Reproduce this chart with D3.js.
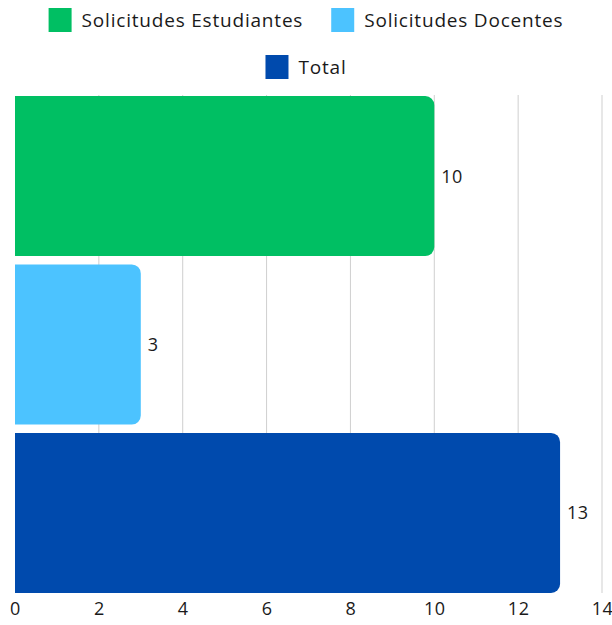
<!DOCTYPE html>
<html>
<head>
<meta charset="utf-8">
<script src="https://cdn.jsdelivr.net/npm/d3@7"></script>
<style>
  body { margin: 0; background: #fff; }
  text { font-family: "Open Sans", sans-serif; fill: #1a1a1a; }
</style>
</head>
<body>
<div id="canvas"></div>
<script>
const categories = ["Solicitudes Estudiantes", "Solicitudes Docentes", "Total"];
const values = [10, 3, 13];
const colors = ["#00bf63", "#4cc3ff", "#004aad"];
const xTicks = [0, 2, 4, 6, 8, 10, 12, 14];

const width = 612;
const height = 625;
const margin = { top: 95, left: 15, bottom: 32, right: 10 };
const iwidth = width - margin.left - margin.right;
const iheight = height - margin.top - margin.bottom;

const svg = d3.select("#canvas").append("svg")
  .attr("width", width)
  .attr("height", height);

const x = d3.scaleLinear().domain([0, 14]).range([0, 587]);
const y = d3.scaleBand().domain(categories).range([1, iheight]).paddingInner(0.05).paddingOuter(0);

const g = svg.append("g").attr("transform", `translate(${margin.left},${margin.top})`);

// grid
g.selectAll("line.grid").data(xTicks.filter(d => d > 0)).enter().append("line")
  .attr("x1", d => x(d)).attr("x2", d => x(d))
  .attr("y1", 0).attr("y2", iheight)
  .attr("stroke", "#cfcfcf").attr("stroke-width", 1);

// bars, rounded on right side only
const r = 9;
const barPath = d => {
  const x1 = x(d.v), y0 = y(d.c), h = y.bandwidth();
  return `M0,${y0}H${x1 - r}A${r},${r} 0 0 1 ${x1},${y0 + r}V${y0 + h - r}A${r},${r} 0 0 1 ${x1 - r},${y0 + h}H0Z`;
};
const data = categories.map((c, i) => ({ c, v: values[i], col: colors[i] }));

g.selectAll("path.bar").data(data).enter().append("path")
  .attr("d", barPath)
  .attr("fill", d => d.col);

g.selectAll("text.val").data(data).enter().append("text")
  .attr("x", d => x(d.v) + 7)
  .attr("y", d => y(d.c) + y.bandwidth() / 2)
  .attr("dy", "0.36em")
  .attr("font-size", 18)
  .attr("letter-spacing", 0.5)
  .text(d => d.v);

// x axis
const axis = g.append("g")
  .attr("transform", `translate(0,${iheight})`)
  .call(d3.axisBottom(x).tickValues(xTicks).tickSize(0).tickPadding(9));
axis.select(".domain").remove();
axis.selectAll("text").attr("font-size", 18).attr("letter-spacing", 0.5)
  .attr("font-family", "Open Sans, sans-serif").attr("fill", "#1a1a1a");

// legend
const legendRows = [[0, 1], [2]];
const leg = svg.append("g");
legendRows.forEach((row, ri) => {
  const rowG = leg.append("g");
  let cx = 0;
  row.forEach(i => {
    const item = rowG.append("g").attr("transform", `translate(${cx},0)`);
    item.append("rect").attr("x", 0).attr("y", -12).attr("width", 23).attr("height", 24).attr("fill", colors[i]);
    const t = item.append("text").attr("x", 33).attr("y", 0).attr("dy", "0.36em")
      .attr("font-size", 19).attr("letter-spacing", 0.8).text(categories[i]);
    cx += 33 + t.node().getComputedTextLength() + 28;
  });
  const w = cx - 28;
  rowG.attr("transform", `translate(${(width - w) / 2},${20 + ri * 47})`);
});
</script>
</body>
</html>
